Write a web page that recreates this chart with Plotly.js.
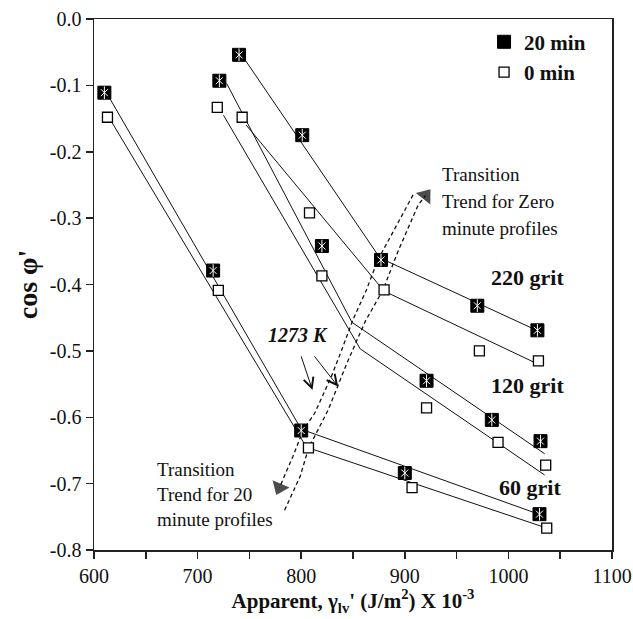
<!DOCTYPE html>
<html><head><meta charset="utf-8">
<script src="https://cdn.plot.ly/plotly-3.0.1.min.js"></script>
<style>html,body{margin:0;padding:0;background:#fff}</style>
</head><body><div id="chart" style="width:633px;height:619px"></div>
<script>
// ---- measured points ----
const g60_20_x = [610, 715, 800, 900, 1030];
const g60_20_y = [-0.111, -0.379, -0.620, -0.684, -0.746];
const g60_0_x = [613, 720, 807, 907, 1037];
const g60_0_y = [-0.148, -0.409, -0.646, -0.706, -0.767];
const g120_20_x = [721, 820, 921, 984, 1031];
const g120_20_y = [-0.093, -0.342, -0.545, -0.604, -0.636];
const g120_0_x = [719, 820, 921, 990, 1036];
const g120_0_y = [-0.133, -0.387, -0.586, -0.638, -0.672];
const g220_20_x = [740, 801, 877, 970, 1028];
const g220_20_y = [-0.054, -0.175, -0.363, -0.432, -0.469];
const g220_0_x = [743, 808, 880, 972, 1029];
const g220_0_y = [-0.148, -0.292, -0.408, -0.500, -0.515];

// ---- fitted (piecewise) trend lines ----
const fit60_20_x = [615, 800, 1031];
const fit60_20_y = [-0.119, -0.618, -0.747];
const fit60_0_x = [617, 805, 1037];
const fit60_0_y = [-0.155, -0.645, -0.767];
const fit120_20_x = [728, 849, 1035];
const fit120_20_y = [-0.097, -0.457, -0.655];
const fit120_0_x = [725, 857, 1035];
const fit120_0_y = [-0.145, -0.497, -0.687];
const fit220_20_x = [746, 876, 1030];
const fit220_20_y = [-0.062, -0.360, -0.471];
const fit220_0_x = [747, 880, 1030];
const fit220_0_y = [-0.160, -0.410, -0.521];

// ---- dashed transition trends ----
const trend20_x = [908, 895, 884, 874, 863, 850, 839, 829, 813, 802, 792, 779];
const trend20_y = [-0.265, -0.303, -0.333, -0.363, -0.408, -0.453, -0.499, -0.539, -0.594, -0.619, -0.659, -0.706];
const trend0_x = [784, 799, 807, 826, 844, 862, 879, 894, 913, 920];
const trend0_y = [-0.740, -0.689, -0.647, -0.589, -0.519, -0.455, -0.408, -0.348, -0.280, -0.266];

// ---- 1273 K arrows (tail -> tip) ----
const kArrowTailX = [799.5, 811.7];
const kArrowTailY = [-0.506, -0.506];
const kArrowTipX = [810.9, 835.8];
const kArrowTipY = [-0.559, -0.554];

// ---- labels ----
const gritText = ['220 grit', '120 grit', '60 grit'];
const gritX = [1018, 1018.5, 1020.5];
const gritY = [-0.389, -0.552, -0.706];
const zeroText = ['Transition', 'Trend for Zero', 'minute profiles'];
const zeroX = 934;
const zeroY = [-0.235, -0.275, -0.315];
const twentyText = ['Transition', 'Trend for 20', 'minute profiles'];
const twentyX = 659;
const twentyY = [-0.678, -0.716, -0.7545];
const kText = '1273 K';
const kX = 797, kY = -0.476;

const yTickVals = [0, -0.1, -0.2, -0.3, -0.4, -0.5, -0.6, -0.7, -0.8];
const yTickText = ['0.0', '-0.1', '-0.2', '-0.3', '-0.4', '-0.5', '-0.6', '-0.7', '-0.8'];

const serif = 'Liberation Serif, Times New Roman, serif';

const all20x = [].concat(g60_20_x, g120_20_x, g220_20_x);
const all20y = [].concat(g60_20_y, g120_20_y, g220_20_y);
const all0x = [].concat(g60_0_x, g120_0_x, g220_0_x);
const all0y = [].concat(g60_0_y, g120_0_y, g220_0_y);

function fitTrace(x, y) {
  return {x: x, y: y, type: 'scatter', mode: 'lines', showlegend: false,
    line: {color: '#111', width: 1}, hoverinfo: 'skip'};
}
function trendTrace(x, y) {
  const sizes = x.map((v, i) => i === x.length - 1 ? 16 : 0);
  return {x: x, y: y, type: 'scatter', mode: 'lines+markers', showlegend: false,
    line: {color: '#111', width: 1.3, dash: '4px,3px'},
    marker: {symbol: 'triangle-up', size: sizes, color: '#000', angleref: 'previous', line: {width: 0}},
    hoverinfo: 'skip'};
}

const data = [
  fitTrace(fit60_20_x, fit60_20_y), fitTrace(fit60_0_x, fit60_0_y),
  fitTrace(fit120_20_x, fit120_20_y), fitTrace(fit120_0_x, fit120_0_y),
  fitTrace(fit220_20_x, fit220_20_y), fitTrace(fit220_0_x, fit220_0_y),
  trendTrace(trend20_x, trend20_y), trendTrace(trend0_x, trend0_y),
  {x: all0x, y: all0y, type: 'scatter', mode: 'markers', name: '0 min', legendrank: 2, legendgroup: 'b',
    marker: {symbol: 'square', size: 10, color: '#fff', line: {color: '#000', width: 1.3}}},
  {x: all20x, y: all20y, type: 'scatter', mode: 'markers', name: '20 min', legendrank: 1, legendgroup: 'a',
    marker: {symbol: 'square', size: 13, color: '#000', line: {color: '#000', width: 1}}},
  {x: all20x, y: all20y, type: 'scatter', mode: 'markers', showlegend: false, legendgroup: 'a',
    marker: {symbol: 'x-thin-open', size: 7, color: '#fff', line: {color: '#fff', width: 1}}},
  {x: all20x, y: all20y, type: 'scatter', mode: 'markers', showlegend: false, legendgroup: 'a',
    marker: {symbol: 'line-ns-open', size: 9, color: '#fff', line: {color: '#fff', width: 1}}}
];

const annotations = [];
gritText.forEach((t, i) => annotations.push({x: gritX[i], y: gritY[i], xref: 'x', yref: 'y', text: t,
  showarrow: false, xanchor: 'center', yanchor: 'middle', font: {family: serif, size: 22, color: '#111', weight: 'bold'}}));
zeroText.forEach((t, i) => annotations.push({x: zeroX, y: zeroY[i], xref: 'x', yref: 'y', text: t,
  showarrow: false, xanchor: 'left', yanchor: 'middle', font: {family: serif, size: 19, color: '#111'}}));
twentyText.forEach((t, i) => annotations.push({x: twentyX, y: twentyY[i], xref: 'x', yref: 'y', text: t,
  showarrow: false, xanchor: 'left', yanchor: 'middle', font: {family: serif, size: 19, color: '#111'}}));
annotations.push({x: kX, y: kY, xref: 'x', yref: 'y', text: kText, showarrow: false,
  xanchor: 'center', yanchor: 'middle', font: {family: serif, size: 20, color: '#111', weight: 'bold', style: 'italic'}});
kArrowTipX.forEach((v, i) => annotations.push({x: v, y: kArrowTipY[i], xref: 'x', yref: 'y',
  ax: kArrowTailX[i], ay: kArrowTailY[i], axref: 'x', ayref: 'y', text: '', showarrow: true,
  arrowhead: 5, arrowsize: 2, arrowwidth: 1, arrowcolor: '#111'}));

const layout = {
  width: 633, height: 619,
  margin: {l: 94, r: 21, t: 19, b: 69},
  paper_bgcolor: '#fff', plot_bgcolor: '#fff',
  font: {family: serif, size: 20, color: '#111'},
  showlegend: true,
  legend: {x: 0.753, y: 0.995, xanchor: 'left', yanchor: 'top', bgcolor: 'rgba(0,0,0,0)',
    font: {family: serif, size: 21, color: '#111', weight: 'bold'}, tracegroupgap: 6, traceorder: 'normal'},
  xaxis: {range: [600, 1100], dtick: 100, tick0: 600, showgrid: false, zeroline: false,
    showline: true, mirror: true, linecolor: '#222', linewidth: 1.5,
    ticks: 'outside', ticklen: 7, tickwidth: 1.5, tickcolor: '#222',
    minor: {dtick: 50, ticks: 'outside', ticklen: 7, tickwidth: 1.5, tickcolor: '#222', showgrid: false},
    tickfont: {family: serif, size: 20, color: '#111'},
    title: {text: 'Apparent, γ<sub>lv</sub>\' (J/m<sup>2</sup>) X 10<sup>-3</sup>', standoff: 2,
      font: {family: serif, size: 21, color: '#111', weight: 'bold'}}},
  yaxis: {range: [-0.8, 0], tickvals: yTickVals, ticktext: yTickText, showgrid: false, zeroline: false,
    showline: true, mirror: true, linecolor: '#222', linewidth: 1.5,
    ticks: 'outside', ticklen: 7, tickwidth: 1.5, tickcolor: '#222',
    tickfont: {family: serif, size: 20, color: '#111'},
    title: {text: 'cos φ\'', standoff: 4, font: {family: serif, size: 28, color: '#111', weight: 'bold'}}},
  annotations: annotations
};

Plotly.newPlot('chart', data, layout, {displayModeBar: false, staticPlot: true});
</script></body></html>
